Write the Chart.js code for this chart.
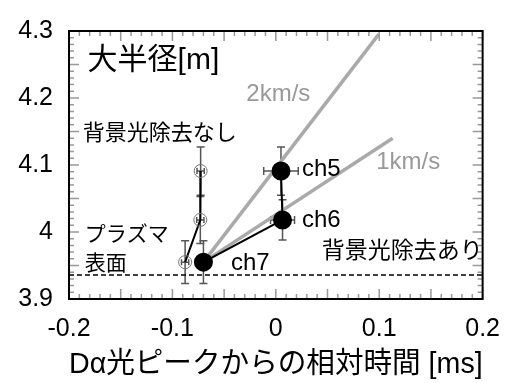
<!DOCTYPE html>
<html><head><meta charset="utf-8">
<script src="https://cdn.jsdelivr.net/npm/chart.js@4"></script>
<style>html,body{margin:0;padding:0;background:#fff}#wrap{width:515px;height:383px;position:relative}</style>
</head><body><div id="wrap"><canvas id="c"></canvas></div>
<script>
// ---- data ----
const chNames = ['ch5', 'ch6', 'ch7'];
const subX = [0.005, 0.0065, -0.070];      // background subtracted (filled)
const subY = [4.091, 4.018, 3.955];
const subXErr = [0.0167, 0.0116, 0.004];
const subYErr = [0.036, 0.030, 0.032];
const rawX = [-0.0727, -0.0730, -0.0877];  // no background subtraction (open)
const rawY = [4.091, 4.018, 3.955];
const rawXErr = [0.0035, 0.0035, 0.0035];
const rawYErr = [0.036, 0.035, 0.032];
const v2kmX = [-0.070, 0.0995];
const v2kmY = [3.955, 4.295];
const v1kmX = [-0.070, 0.113];
const v1kmY = [3.955, 4.140];
const surfaceX = [-0.2, 0.2];
const surfaceY = [3.936, 3.936];
const xTicks = [-0.2, -0.1, 0, 0.1, 0.2];
const xTickLabels = ['-0.2', '-0.1', '0', '0.1', '0.2'];
const yTicks = [3.9, 4.0, 4.1, 4.2, 4.3];
const yTickLabels = ['3.9', '4', '4.1', '4.2', '4.3'];

const FONT = "'Liberation Sans', 'Noto Sans CJK JP', sans-serif";
const pts = (xs, ys) => xs.map((x, i) => ({x, y: ys[i]}));

// text annotations anchored in data coordinates
const notes = [
  {t: '大半径[m]', x: -0.182, y: 4.255, size: 30, color: '#000', align: 'left'},
  {t: '2km/s', x: 0.0024, y: 4.205, size: 24, color: '#999', align: 'center'},
  {t: '1km/s', x: 0.128, y: 4.104, size: 24, color: '#999', align: 'center'},
  {t: chNames[0], x: 0.0253, y: 4.094, size: 24, color: '#000', align: 'left'},
  {t: chNames[1], x: 0.0253, y: 4.017, size: 24, color: '#000', align: 'left'},
  {t: chNames[2], x: -0.0434, y: 3.953, size: 24, color: '#000', align: 'left'},
  {t: '背景光除去なし', x: -0.1866, y: 4.147, size: 22, color: '#000', align: 'left'},
  {t: '背景光除去あり', x: 0.0444, y: 3.971, size: 23, color: '#000', align: 'left'},
  {t: 'プラズマ', x: -0.1847, y: 3.995, size: 21, color: '#000', align: 'left'},
  {t: '表面', x: -0.1847, y: 3.952, size: 21, color: '#000', align: 'left'}
];

function errBars(ctx, xs, ys, sx, sy, xe, ye, cap, hcap) {
  ctx.save();
  ctx.strokeStyle = '#555';
  ctx.lineWidth = 1.5;
  for (let i = 0; i < xs.length; i++) {
    const px = sx.getPixelForValue(xs[i]), py = sy.getPixelForValue(ys[i]);
    const y1 = sy.getPixelForValue(ys[i] + ye[i]), y2 = sy.getPixelForValue(ys[i] - ye[i]);
    const x1 = sx.getPixelForValue(xs[i] - xe[i]), x2 = sx.getPixelForValue(xs[i] + xe[i]);
    ctx.beginPath();
    ctx.moveTo(px, y1); ctx.lineTo(px, y2);
    ctx.moveTo(px - cap, y1); ctx.lineTo(px + cap, y1);
    ctx.moveTo(px - cap, y2); ctx.lineTo(px + cap, y2);
    ctx.moveTo(x1, py); ctx.lineTo(x2, py);
    ctx.moveTo(x1, py - hcap); ctx.lineTo(x1, py + hcap);
    ctx.moveTo(x2, py - hcap); ctx.lineTo(x2, py + hcap);
    ctx.stroke();
  }
  ctx.restore();
}

const deco = {
  id: 'deco',
  beforeDatasetsDraw(chart) {
    const {ctx, scales: {x, y}} = chart;
    errBars(ctx, rawX, rawY, x, y, rawXErr, rawYErr, 4, 3);
    errBars(ctx, subX, subY, x, y, subXErr, subYErr, 4, 4);
  },
  afterDraw(chart) {
    const {ctx, chartArea: a, scales: {x, y}} = chart;
    ctx.save();
    // inward ticks
    ctx.strokeStyle = '#999';
    ctx.lineWidth = 1.5;
    ctx.beginPath();
    for (let k = -20; k <= 20; k++) {
      const v = k / 100, px = x.getPixelForValue(v);
      const len = (k % 5 === 0) ? 10 : 5;
      ctx.moveTo(px, a.bottom); ctx.lineTo(px, a.bottom - len);
      ctx.moveTo(px, a.top); ctx.lineTo(px, a.top + len);
    }
    for (let k = 390; k <= 430; k++) {
      const v = k / 100, py = y.getPixelForValue(v);
      const len = (k % 5 === 0) ? 10 : 5;
      ctx.moveTo(a.left, py); ctx.lineTo(a.left + len, py);
      ctx.moveTo(a.right, py); ctx.lineTo(a.right - len, py);
    }
    ctx.stroke();
    // frame
    ctx.strokeStyle = '#000';
    ctx.lineWidth = 2;
    ctx.strokeRect(a.left, a.top, a.right - a.left, a.bottom - a.top);
    // notes
    ctx.textBaseline = 'middle';
    for (const n of notes) {
      ctx.font = n.size + 'px ' + FONT;
      ctx.fillStyle = n.color;
      ctx.textAlign = n.align;
      ctx.fillText(n.t, x.getPixelForValue(n.x), y.getPixelForValue(n.y));
    }
    ctx.restore();
  }
};

Chart.defaults.font.family = FONT;
Chart.defaults.color = '#000';

new Chart(document.getElementById('c'), {
  type: 'scatter',
  data: {
    datasets: [
      {data: pts(subX, subY), showLine: true, borderColor: '#000', borderWidth: 2,
       pointRadius: 8.5, pointBackgroundColor: '#000', pointBorderColor: '#000', order: 0},
      {data: pts(rawX, rawY), showLine: true, borderColor: '#000', borderWidth: 2,
       pointRadius: 6.5, pointBackgroundColor: 'rgba(0,0,0,0)', pointBorderColor: '#777', pointBorderWidth: 1, order: 1},
      {data: pts(v2kmX, v2kmY), showLine: true, borderColor: '#aaa', borderWidth: 3.5, pointRadius: 0, order: 2},
      {data: pts(v1kmX, v1kmY), showLine: true, borderColor: '#aaa', borderWidth: 3.5, pointRadius: 0, order: 3},
      {data: pts(surfaceX, surfaceY), showLine: true, borderColor: '#000', borderWidth: 1.5, borderDash: [5, 3], pointRadius: 0, order: 4}
    ]
  },
  options: {
    responsive: true,
    maintainAspectRatio: false,
    animation: false,
    events: [],
    layout: {padding: {top: 22, right: 27, left: 0, bottom: 0}},
    plugins: {legend: {display: false}, tooltip: {enabled: false}},
    scales: {
      x: {
        type: 'linear', min: -0.2, max: 0.2,
        grid: {display: false, drawTicks: false},
        border: {display: false},
        afterBuildTicks: s => { s.ticks = xTicks.map(v => ({value: v})); },
        ticks: {font: {size: 25}, padding: 15, maxRotation: 0,
                callback: (v, i) => xTickLabels[i]},
        title: {display: true, text: 'Dα光ピークからの相対時間 [ms]', font: {size: 29}, padding: {top: 0, bottom: 1}},
        afterFit: s => { s.height = 84; }
      },
      y: {
        type: 'linear', min: 3.9, max: 4.3,
        grid: {display: false, drawTicks: false},
        border: {display: false},
        afterBuildTicks: s => { s.ticks = yTicks.map(v => ({value: v})); },
        ticks: {font: {size: 25}, padding: 16,
                callback: (v, i) => yTickLabels[i]},
        afterFit: s => { s.width = 69; }
      }
    }
  },
  plugins: [deco]
});
</script>
</body></html>
